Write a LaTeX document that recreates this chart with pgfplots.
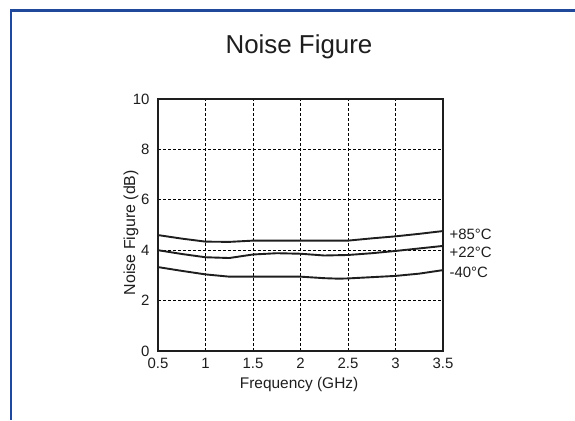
\documentclass[border=0pt]{standalone}
\usepackage{fontspec}
\setmainfont{Liberation Sans}
\usepackage{pgfplots}
\pgfplotsset{compat=1.18}
\definecolor{frameblue}{RGB}{32,72,155}
\definecolor{ink}{RGB}{30,30,30}

\begin{document}
\begin{tikzpicture}[x=1bp,y=1bp]
\path[use as bounding box] (0,0) rectangle (575,420);
\fill[white] (0,0) rectangle (575,420);
% blue frame, only top and left are inside the picture
\draw[frameblue, line width=2.4bp] (11,0) -- (11,409.5) -- (575,409.5);
\node[font=\fontsize{26}{30}\selectfont, text=ink, anchor=base] at (299,367) {Noise Figure};

\begin{axis}[
    at={(158bp,69bp)}, anchor=south west,
    width=285bp, height=252bp, scale only axis,
    xmin=0.5, xmax=3.5, ymin=0, ymax=10,
    xtick={0.5,1,1.5,2,2.5,3,3.5},
    ytick={0,2,4,6,8,10},
    grid=major,
    grid style={black, line width=0.7bp, dash pattern=on 3bp off 2bp},
    axis line style={line width=1.6bp, ink},
    major tick length=0pt,
    tick label style={font=\fontsize{15}{17}\selectfont, text=ink},
    xticklabel style={yshift=-4bp},
    yticklabel style={xshift=-5bp},
    /pgf/number format/assume math mode=true,
    xlabel={Frequency (GHz)},
    ylabel={Noise Figure (dB)},
    xlabel style={font=\fontsize{15.5}{17}\selectfont, text=ink,
        at={([yshift=-37bp]axis description cs:0.495,0)}, anchor=base},
    ylabel style={font=\fontsize{16}{18}\selectfont, text=ink,
        at={([xshift=-23bp]axis description cs:0,0.47)}, anchor=base},
    clip=false,
]
\addplot[ink, line width=1.9bp] coordinates {
    (0.5,4.60) (0.75,4.46) (1.0,4.34) (1.25,4.33) (1.5,4.38)
    (2.0,4.38) (2.5,4.38) (2.75,4.47) (3.0,4.55) (3.25,4.65) (3.5,4.76)
};
\addplot[ink, line width=1.9bp] coordinates {
    (0.5,4.00) (0.75,3.85) (1.0,3.72) (1.25,3.69) (1.5,3.83)
    (1.75,3.88) (2.0,3.86) (2.25,3.79) (2.5,3.81) (2.75,3.88)
    (3.0,3.97) (3.25,4.07) (3.5,4.17)
};
\addplot[ink, line width=1.9bp] coordinates {
    (0.5,3.33) (0.75,3.18) (1.0,3.04) (1.25,2.95) (1.5,2.95)
    (2.0,2.95) (2.25,2.89) (2.4,2.87) (2.5,2.88) (3.0,2.98)
    (3.25,3.07) (3.5,3.21)
};
\node[anchor=west, font=\fontsize{15}{17}\selectfont, text=ink, xshift=3bp] at (axis cs:3.5,4.62) {+85°C};
\node[anchor=west, font=\fontsize{15}{17}\selectfont, text=ink, xshift=3bp] at (axis cs:3.5,3.90) {+22°C};
\node[anchor=west, font=\fontsize{15}{17}\selectfont, text=ink, xshift=3bp] at (axis cs:3.5,3.14) {-40°C};
\end{axis}
\end{tikzpicture}
\end{document}
